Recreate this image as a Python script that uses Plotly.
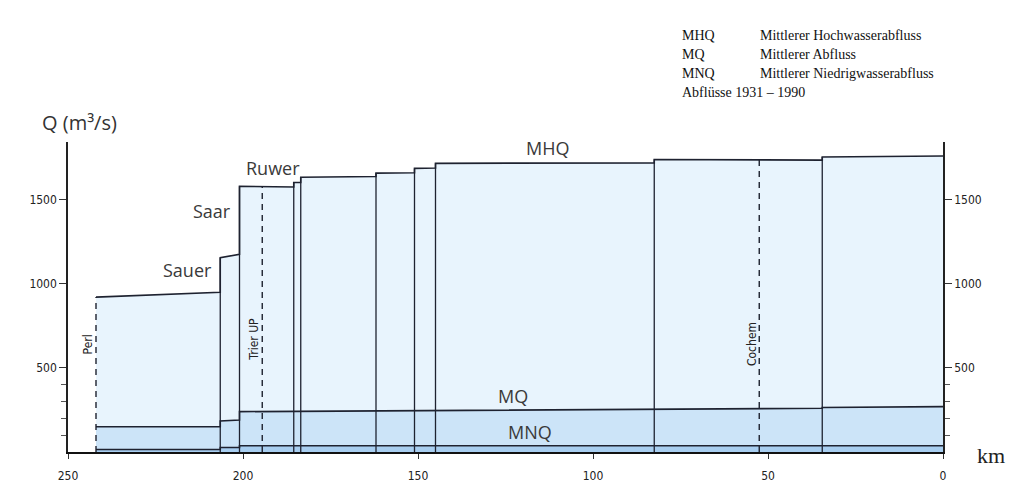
import plotly.graph_objects as go

# ---------------- data ----------------
# segment boundaries along the Mosel (km upstream of mouth)
seg_start_km = [242, 206.5, 201, 185.5, 183.5, 162, 151, 145, 82.5, 34.5]
seg_end_km = [206.5, 201, 185.5, 183.5, 162, 151, 145, 82.5, 34.5, 0]

# MHQ (m³/s) at start / end of each segment
mhq_start = [922, 1156, 1581, 1604, 1635, 1660, 1688, 1718, 1741, 1756]
mhq_end = [951, 1177, 1577, 1604, 1640, 1662, 1690, 1721, 1737, 1762]

# MQ (m³/s)
mq_start = [150, 185, 240, 243, 244, 247, 248, 249, 258, 265]
mq_end = [150, 190, 242, 243, 246, 247, 248, 256, 260, 270]

# MNQ (m³/s)
mnq_start = [15, 27, 37, 36, 35, 34, 34, 33, 33, 36]
mnq_end = [15, 27, 37, 36, 35, 34, 34, 33, 34, 37]

# gauges (dashed lines)
gauge_names = ["Perl", "Trier UP", "Cochem"]
gauge_km = [242, 194.5, 52.5]
gauge_top = [922, 1580, 1740]

# tributary labels
trib_names = ["Sauer", "Saar", "Ruwer"]
trib_km = [216, 209, 191.5]
trib_q = [1085, 1435, 1690]

x_ticks = [250, 200, 150, 100, 50, 0]
y_ticks = [500, 1000, 1500]
y_minor = [100, 200, 300, 400]

legend_abbr = ["MHQ", "MQ", "MNQ"]
legend_text = ["Mittlerer Hochwasserabfluss", "Mittlerer Abfluss",
               "Mittlerer Niedrigwasserabfluss"]
legend_note = "Abflüsse 1931 – 1990"

# ---------------- helpers ----------------
def step_xy(starts, ends, vs, ve):
    xs, ys = [], []
    for s, e, a, b in zip(starts, ends, vs, ve):
        xs += [s, e]
        ys += [a, b]
    return xs, ys

def polygon(starts, ends, vs, ve):
    xs, ys = step_xy(starts, ends, vs, ve)
    return [starts[0]] + xs + [ends[-1]], [0] + ys + [0]

FILL_HQ = "#e8f4fd"
FILL_MQ = "#cce4f8"
FILL_NQ = "#a8cef0"
INK = "#1e2230"
NARROW = "DejaVu Sans Condensed, Liberation Sans Narrow, Arial Narrow, sans-serif"
ROUND = "Open Sans, Lato, sans-serif"
SERIF = "Liberation Serif, serif"

fig = go.Figure()

for (vs, ve, col) in [(mhq_start, mhq_end, FILL_HQ),
                      (mq_start, mq_end, FILL_MQ),
                      (mnq_start, mnq_end, FILL_NQ)]:
    px_, py_ = polygon(seg_start_km, seg_end_km, vs, ve)
    fig.add_trace(go.Scatter(x=px_, y=py_, fill="toself", fillcolor=col,
                             mode="lines", line=dict(width=0),
                             hoverinfo="skip", showlegend=False))

# upper outlines of the three areas
for (vs, ve) in [(mhq_start, mhq_end), (mq_start, mq_end), (mnq_start, mnq_end)]:
    sx, sy = step_xy(seg_start_km, seg_end_km, vs, ve)
    fig.add_trace(go.Scatter(x=sx, y=sy, mode="lines",
                             line=dict(color=INK, width=1.6),
                             hoverinfo="skip", showlegend=False))

# full-height vertical separators at the tributary inflows
vx, vy = [], []
for i in range(1, len(seg_start_km)):
    top = max(mhq_end[i - 1], mhq_start[i])
    vx += [seg_start_km[i], seg_start_km[i], None]
    vy += [0, top, None]
fig.add_trace(go.Scatter(x=vx, y=vy, mode="lines",
                         line=dict(color=INK, width=1.3),
                         hoverinfo="skip", showlegend=False))

# dashed gauge lines
dx, dy = [], []
for k, t in zip(gauge_km, gauge_top):
    dx += [k, k, None]
    dy += [0, t, None]
fig.add_trace(go.Scatter(x=dx, y=dy, mode="lines",
                         line=dict(color=INK, width=1.4, dash="6px,5px"),
                         hoverinfo="skip", showlegend=False))

# invisible trace for the right axis
fig.add_trace(go.Scatter(x=[0], y=[0], yaxis="y2", mode="markers",
                         marker=dict(opacity=0), hoverinfo="skip",
                         showlegend=False))

def ann(**kw):
    base = dict(showarrow=False, xanchor="center", yanchor="middle")
    base.update(kw)
    return base

LABEL_FONT = dict(family=ROUND, size=18, color="#3a3a3a")
annotations = []
for n, k, q in zip(trib_names, trib_km, trib_q):
    annotations.append(ann(x=k, y=q, text=n, font=LABEL_FONT))
annotations.append(ann(x=113, y=1812, text="MHQ", font=LABEL_FONT))
annotations.append(ann(x=123, y=335, text="MQ", font=LABEL_FONT))
annotations.append(ann(x=118, y=119, text="MNQ", font=LABEL_FONT))
gauge_lab_x = [244.2, 196.8, 54.6]
gauge_lab_y = [642, 670, 642]
for n, lx, ly in zip(gauge_names, gauge_lab_x, gauge_lab_y):
    annotations.append(ann(x=lx, y=ly, text=n, textangle=-90,
                           font=dict(family=NARROW, size=12, color="#222")))

annotations.append(ann(xref="paper", yref="paper", x=0.0126, y=1.063,
                       text="Q (m³/s)",
                       font=dict(family=ROUND, size=20, color="#333")))
annotations.append(ann(xref="paper", yref="paper", x=1.055, y=-0.012,
                       text="km", font=dict(family=SERIF, size=22, color="#222")))
rows_y = [1.342, 1.282, 1.222, 1.161]
for a, t, yy in zip(legend_abbr, legend_text, rows_y):
    annotations.append(ann(xref="paper", yref="paper", x=0.699, y=yy,
                           xanchor="left", text=a,
                           font=dict(family=SERIF, size=14, color="#111")))
    annotations.append(ann(xref="paper", yref="paper", x=0.789, y=yy,
                           xanchor="left", text=t,
                           font=dict(family=SERIF, size=14, color="#111")))
annotations.append(ann(xref="paper", yref="paper", x=0.699, y=rows_y[3],
                       xanchor="left", text=legend_note,
                       font=dict(family=SERIF, size=14, color="#111")))

YMAX = 1845
yaxis_common = dict(range=[0, YMAX], tickvals=y_ticks, ticks="outside",
                    ticklen=7, tickwidth=1.3, tickcolor="#333",
                    showline=True, linecolor="#222", linewidth=1.5,
                    showgrid=False, zeroline=False,
                    tickfont=dict(family=NARROW, size=12, color="#222"),
                    minor=dict(tickvals=y_minor, ticks="outside", ticklen=5,
                               tickcolor="#555", showgrid=False))

# page body has an 8px margin: shrink the figure so the plot area sits
# at the same pixels as in the reference (x 68..943, y 142..458)
fig.update_layout(
    width=1010, height=487,
    margin=dict(l=60, r=75, t=134, b=37),
    paper_bgcolor="white", plot_bgcolor="white",
    xaxis=dict(range=[250, 0], tickvals=x_ticks, ticks="outside", ticklen=5,
               tickcolor="#333", showline=True, linecolor="#111", linewidth=2.2,
               showgrid=False, zeroline=False, ticklabelstandoff=6,
               tickfont=dict(family=NARROW, size=12, color="#222")),
    yaxis=yaxis_common,
    yaxis2=dict(yaxis_common, overlaying="y", side="right"),
    annotations=annotations,
)

fig.write_html("out.html")
